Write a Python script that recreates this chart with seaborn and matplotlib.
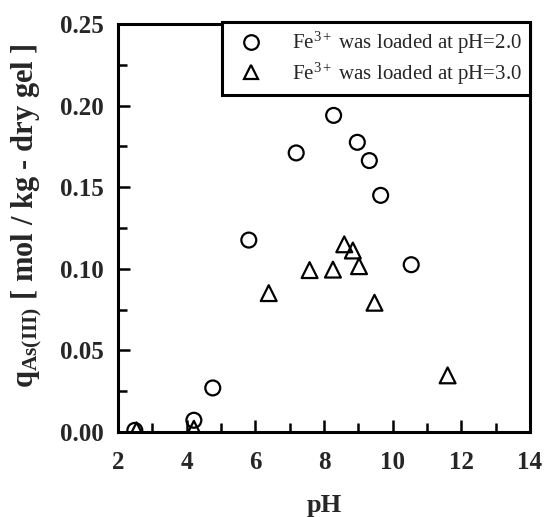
import matplotlib
matplotlib.use("Agg")
import matplotlib.pyplot as plt
from matplotlib.ticker import MultipleLocator, FormatStrFormatter
from matplotlib.lines import Line2D
import seaborn as sns
import pandas as pd

# Adsorption of As(III) versus equilibrium pH
ph_fe20 = [2.49, 4.21, 4.76, 5.81, 7.19, 8.28, 8.97, 9.32, 9.65, 10.54]
q_fe20 = [0.001, 0.0072, 0.027, 0.1176, 0.171, 0.194, 0.1775, 0.1663, 0.145, 0.1025]

ph_fe30 = [2.54, 4.21, 6.39, 7.58, 8.26, 8.59, 8.84, 9.02, 9.47, 11.60]
q_fe30 = [0.001, 0.002, 0.0851, 0.0992, 0.0995, 0.115, 0.1112, 0.1016, 0.0792, 0.0347]

series_labels = ["Fe$^{3+}$ was loaded at pH=2.0", "Fe$^{3+}$ was loaded at pH=3.0"]
x_ticks = [2, 4, 6, 8, 10, 12, 14]
y_ticks = [0.00, 0.05, 0.10, 0.15, 0.20, 0.25]

sns.set_theme(style="ticks")
plt.rcParams.update({
    "font.family": ["Liberation Serif", "DejaVu Serif"],
    "mathtext.fontset": "custom",
    "mathtext.rm": "Liberation Serif",
    "mathtext.it": "Liberation Serif:italic",
    "mathtext.bf": "Liberation Serif:bold",
    "axes.linewidth": 2.2,
})

fig = plt.figure(figsize=(5.44, 5.17), dpi=100)
ax = fig.add_axes([0.2169, 0.1644, 0.9743 - 0.2169, 0.9536 - 0.1644])

df20 = pd.DataFrame({"pH": ph_fe20, "q": q_fe20})
df30 = pd.DataFrame({"pH": ph_fe30, "q": q_fe30})

sns.scatterplot(data=df20, x="pH", y="q", marker="o", ax=ax, s=115,
                facecolor="none", edgecolor="black", linewidth=1.6, zorder=3)
sns.scatterplot(data=df30, x="pH", y="q", marker="^", ax=ax, s=130,
                facecolor="none", edgecolor="black", linewidth=1.6, zorder=3)

ax.set_xlim(x_ticks[0], x_ticks[-1])
ax.set_ylim(y_ticks[0], y_ticks[-1])
ax.set_xticks(x_ticks)
ax.set_yticks(y_ticks)
ax.xaxis.set_minor_locator(MultipleLocator(1))
ax.yaxis.set_minor_locator(MultipleLocator(0.025))
ax.yaxis.set_major_formatter(FormatStrFormatter("%.2f"))

ax.tick_params(axis="both", which="both", direction="in", top=False, right=False,
               width=1.8, color="black")
ax.tick_params(axis="both", which="major", length=8.5, labelsize=18)
ax.tick_params(axis="both", which="minor", length=6.5)
ax.tick_params(axis="x", which="major", pad=14)
ax.tick_params(axis="y", which="major", pad=10)
for lab in ax.get_xticklabels() + ax.get_yticklabels():
    lab.set_fontweight("bold")

for sp in ax.spines.values():
    sp.set_visible(True)
    sp.set_color("black")
    sp.set_linewidth(2.2)

ax.set_xlabel("pH", fontsize=19, fontweight="bold", labelpad=14)
ax.set_ylabel(r"q$_{\mathbf{As(III)}}$ [ mol / kg - dry gel ]", fontsize=22,
              fontweight="bold")
ax.yaxis.set_label_coords(-0.18, 0.53)

handles = [
    Line2D([], [], linestyle="none", marker="o", markersize=10.5,
           markerfacecolor="none", markeredgecolor="black", markeredgewidth=1.6),
    Line2D([], [], linestyle="none", marker="^", markersize=10.5,
           markerfacecolor="none", markeredgecolor="black", markeredgewidth=1.6),
]
leg = ax.legend(handles, series_labels, loc="upper right", bbox_to_anchor=(1.0, 1.0056),
                borderaxespad=0, borderpad=0.4, handlelength=2.0, handletextpad=0.95,
                labelspacing=0.2, fontsize=15, frameon=True, fancybox=False,
                edgecolor="black", framealpha=1)
leg.get_frame().set_linewidth(2.2)

fig.savefig("out.png", dpi=100, facecolor="white")
